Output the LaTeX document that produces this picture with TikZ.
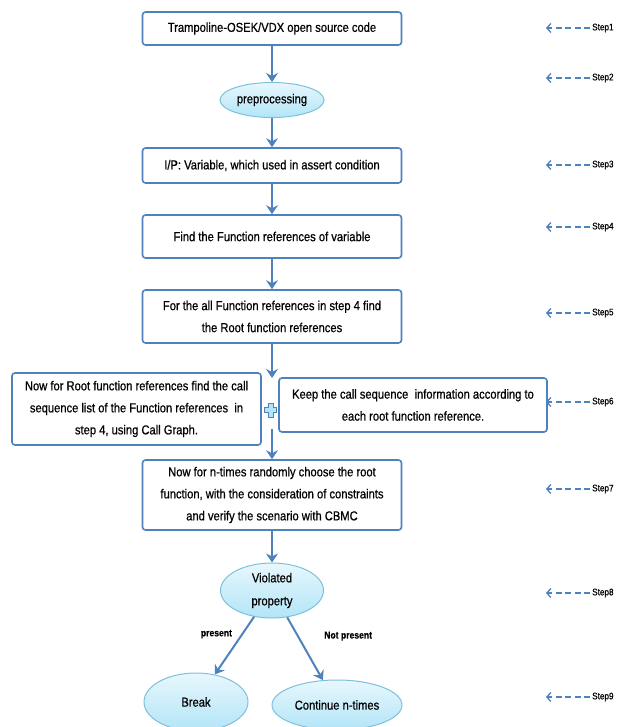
\documentclass[tikz,border=0pt]{standalone}
\usepackage{fontspec}
\setmainfont[FakeStretch=0.86,FakeBold=0.6]{Liberation Sans}
\usetikzlibrary{shapes.geometric,arrows.meta}
\definecolor{flowblue}{RGB}{79,129,189}
\definecolor{bubble}{RGB}{178,229,247}
\definecolor{bubbleline}{RGB}{125,192,222}
\tikzset{
  stepbox/.style={draw=flowblue, line width=1.6pt, rounded corners=3pt, fill=white,
    align=center, inner sep=2pt, font=\fontsize{13}{22}\selectfont},
  bubblenode/.style={ellipse, draw=bubbleline, line width=1pt, top color=bubble!30!white,
    bottom color=bubble, inner sep=0pt, align=center, font=\fontsize{13}{23}\selectfont},
  flow/.style={draw=flowblue, line width=2pt, -{Stealth[length=9pt,width=12pt,inset=3pt]}},
  edgetag/.style={font=\bfseries\fontsize{10}{12}\selectfont},
  steptag/.style={anchor=west, inner sep=2pt, font=\fontsize{9.5}{11}\selectfont},
  stepline/.style={draw=flowblue, line width=1.3pt, dash pattern=on 6pt off 3.5pt,
    -{Straight Barb[length=4pt,width=9pt]}}
}
\begin{document}
\begin{tikzpicture}[x=1pt,y=-1pt]
        \useasboundingbox (0,0) rectangle (625,727);
        \def\col{272}

        \node[stepbox, minimum width=259, minimum height=33] (src) at (\col,28.5) {Trampoline-OSEK/VDX open source code};
        \node[bubblenode, minimum width=104, minimum height=35] (pre) at (\col,100) {preprocessing};
        \node[stepbox, minimum width=259, minimum height=35] (input) at (\col,165.5) {I/P: Variable, which used in assert condition};
        \node[stepbox, minimum width=259, minimum height=43] (refs) at (\col,236.5) {Find the Function references of variable};
        \node[stepbox, minimum width=259, minimum height=53] (roots) at (\col,316.5) {For the all Function references in step 4 find\\the Root function references};
        \node[stepbox, minimum width=249, minimum height=72] (calls) at (136.5,409) {Now for Root function references find the call\\sequence list of the Function references\ \ in\\step 4, using Call Graph.};
        \node[stepbox, minimum width=268, minimum height=54] (keep) at (413,405) {Keep the call sequence\ \ information according to\\each root function reference.};
        \node[stepbox, minimum width=259, minimum height=70] (verify) at (\col,495) {Now for n-times randomly choose the root\\function, with the consideration of constraints\\and verify the scenario with CBMC};
        \node[bubblenode, minimum width=103, minimum height=55] (viol) at (\col,590.5) {Violated\\property};
        \node[bubblenode, minimum width=104, minimum height=58] (brk) at (196,702) {Break};
        \node[bubblenode, minimum width=130, minimum height=50] (cont) at (337,705) {Continue n-times};

        \coordinate (split) at (\col,378);
        \coordinate (merge) at (\col,429);
        \draw[draw=flowblue, fill=bubble, line width=1pt, shift={(270.5,410)}]
          (-2.5,-7) -- (2.5,-7) -- (2.5,-2.5) -- (6,-2.5) -- (6,2.5) -- (2.5,2.5) -- (2.5,7) -- (-2.5,7)
          -- (-2.5,2.5) -- (-6,2.5) -- (-6,-2.5) -- (-2.5,-2.5) -- cycle;

        \draw[flow] (src) -- (pre);
        \draw[flow] (pre) -- (input);
        \draw[flow] (input) -- (refs);
        \draw[flow] (refs) -- (roots);
        \draw[flow] (roots) -- (split);
        \draw[flow] (merge) -- (verify);
        \draw[flow] (verify) -- (viol);
        \draw[flow] (viol) -- (brk) node[pos=.3, left=6pt, edgetag] {present};
        \draw[flow] (viol) -- (cont) node[pos=.3, right=22pt, edgetag] {Not present};

        \foreach \n/\y in {1/28,2/78,3/165,4/227,5/313,6/402,7/489,8/593,9/697} {
          \node[steptag] (step\n) at (590,\y) {Step\n};
          \coordinate (tip\n) at (546,\y);
          \draw[stepline] (step\n) -- (tip\n);
        }
      \end{tikzpicture}
\end{document}
